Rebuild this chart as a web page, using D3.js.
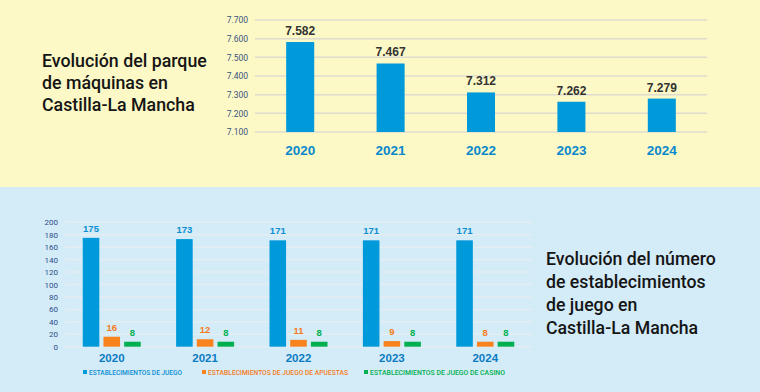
<!DOCTYPE html>
<html><head><meta charset="utf-8">
<script src="https://cdn.jsdelivr.net/npm/d3@7"></script>
<style>html,body{margin:0;padding:0;background:#fff;}svg{display:block;}</style>
</head><body>
<svg id="c" width="760" height="392"></svg>
<script>
// ---------- DATA ----------
const years = ["2020", "2021", "2022", "2023", "2024"];
const machines = [7582, 7467, 7312, 7262, 7279];
const machineTicks = [7100, 7200, 7300, 7400, 7500, 7600, 7700];

const seriesNames = ["ESTABLECIMIENTOS DE JUEGO", "ESTABLECIMIENTOS DE JUEGO DE APUESTAS", "ESTABLECIMIENTOS DE JUEGO DE CASINO"];
const juego = [175, 173, 171, 171, 171];
const apuestas = [16, 12, 11, 9, 8];
const casino = [8, 8, 8, 8, 8];
const estTicks = [0, 20, 40, 60, 80, 100, 120, 140, 160, 180, 200];

const title1 = ["Evolución del parque", "de máquinas en", "Castilla-La Mancha"];
const title2 = ["Evolución del número", "de establecimientos", "de juego en", "Castilla-La Mancha"];

// ---------- SETUP ----------
const svg = d3.select("#c");
const loc = d3.formatLocale({decimal: ",", thousands: ".", grouping: [3], currency: ["", "€"]});
const fmt = loc.format(",");

// backgrounds
svg.append("rect").attr("x", 0).attr("y", 0).attr("width", 760).attr("height", 187).attr("fill", "#fdf9c6");
svg.append("rect").attr("x", 0).attr("y", 187).attr("width", 760).attr("height", 205).attr("fill", "#d4ebf8");

// ---------- TOP CHART ----------
const xT = d3.scaleBand().domain(years).range([255, 707]).paddingInner(0.69).paddingOuter(0.345);
const yT = d3.scaleLinear().domain([7100, 7700]).range([132, 20]);

const gT = svg.append("g");
gT.selectAll("line.grid").data(machineTicks).join("line")
  .attr("x1", 255).attr("x2", 707)
  .attr("y1", d => yT(d)).attr("y2", d => yT(d))
  .attr("stroke", "#dedbd0").attr("stroke-width", 1.5);

const yAxisT = d3.axisLeft(yT).tickValues(machineTicks).tickFormat(fmt).tickSize(0).tickPadding(0);
gT.append("g").attr("transform", "translate(248,0)").call(yAxisT)
  .call(g => g.select(".domain").remove())
  .call(g => g.selectAll("text").attr("font-family", "Roboto, sans-serif").attr("font-size", 8.5).attr("fill", "#3a5480"));

gT.selectAll("rect.bar").data(machines).join("rect")
  .attr("x", (d, i) => xT(years[i])).attr("width", xT.bandwidth())
  .attr("y", d => yT(d)).attr("height", d => yT(7100) - yT(d))
  .attr("fill", "#0099d9");

gT.selectAll("text.val").data(machines).join("text")
  .attr("x", (d, i) => xT(years[i]) + xT.bandwidth() / 2)
  .attr("y", d => yT(d) - 7)
  .attr("text-anchor", "middle")
  .attr("font-family", "Liberation Sans, Arial, sans-serif").attr("font-weight", "bold")
  .attr("font-size", 12).attr("fill", "#333333")
  .text(d => fmt(d));

const xAxisT = d3.axisBottom(xT).tickSize(0).tickPadding(0);
gT.append("g").attr("transform", "translate(0,145)").call(xAxisT)
  .call(g => g.select(".domain").remove())
  .call(g => g.selectAll("text").attr("font-family", "Liberation Sans, Arial, sans-serif")
    .attr("font-weight", "bold").attr("font-size", 13.5).attr("fill", "#0a88cc"));

// titles
function drawTitle(lines, x, y0, dy, targetW) {
  const g = svg.append("g");
  const t = g.append("text").attr("font-family", "Roboto, sans-serif").attr("font-weight", 500)
    .attr("font-size", 18.5).attr("fill", "#151515");
  lines.forEach((l, i) => t.append("tspan").attr("x", 0).attr("y", i * dy).text(l));
  const w = t.select("tspan").node().getComputedTextLength();
  const s = targetW / w;
  g.attr("transform", `translate(${x},${y0}) scale(${s},1)`);
}
drawTitle(title1, 42, 67, 22, 165);

// ---------- BOTTOM CHART ----------
const x0 = d3.scaleBand().domain(years).range([65, 532]).paddingInner(0.379).paddingOuter(0.19);
const keys = [0, 1, 2];
const x1 = d3.scaleBand().domain(keys).range([0, x0.bandwidth()]).paddingInner(0.2);
const yB = d3.scaleLinear().domain([0, 200]).range([346.7, 222.3]);
const colors = ["#0099d9", "#f7821e", "#00b050"];
const labelColors = ["#0b8fd3", "#f47b20", "#00b050"];
const seriesData = [juego, apuestas, casino];

const gB = svg.append("g");
gB.selectAll("line.grid").data(estTicks).join("line")
  .attr("x1", 65).attr("x2", 532)
  .attr("y1", d => yB(d)).attr("y2", d => yB(d))
  .attr("stroke", "#e3edf2").attr("stroke-width", 1.5);

const yAxisB = d3.axisLeft(yB).tickValues(estTicks).tickSize(0).tickPadding(0);
gB.append("g").attr("transform", "translate(58,0)").call(yAxisB)
  .call(g => g.select(".domain").remove())
  .call(g => g.selectAll("text").attr("font-family", "Roboto, sans-serif").attr("font-size", 8).attr("fill", "#2c4f86"));

years.forEach((yr, i) => {
  const grp = gB.append("g").attr("transform", `translate(${x0(yr)},0)`);
  keys.forEach(k => {
    const v = seriesData[k][i];
    grp.append("rect").attr("x", x1(k)).attr("width", x1.bandwidth())
      .attr("y", yB(v)).attr("height", yB(0) - yB(v)).attr("fill", colors[k]);
    grp.append("text").attr("x", x1(k) + x1.bandwidth() / 2).attr("y", yB(v) - 6)
      .attr("text-anchor", "middle").attr("font-family", "Liberation Sans, Arial, sans-serif")
      .attr("font-weight", "bold").attr("font-size", 9.5).attr("fill", labelColors[k]).text(v);
  });
});

const xAxisB = d3.axisBottom(x0).tickSize(0).tickPadding(0);
gB.append("g").attr("transform", "translate(0,354)").call(xAxisB)
  .call(g => g.select(".domain").remove())
  .call(g => g.selectAll("text").attr("font-family", "Liberation Sans, Arial, sans-serif")
    .attr("font-weight", "bold").attr("font-size", 11.5).attr("fill", "#0b7bc2"));

// legend
const legX = [83, 202, 364];
const legW = [99, 146, 141];
seriesNames.forEach((n, k) => {
  const g = svg.append("g").attr("transform", `translate(${legX[k]},372)`);
  g.append("rect").attr("x", 0).attr("y", -2).attr("width", 4).attr("height", 4).attr("fill", colors[k]);
  g.append("text").attr("x", 6).attr("y", 2.6).attr("font-family", "Roboto, sans-serif").attr("font-weight", 500)
    .attr("font-size", 7.2).attr("fill", labelColors[k]).attr("textLength", legW[k] - 6)
    .attr("lengthAdjust", "spacingAndGlyphs").text(n);
});

drawTitle(title2, 546, 265, 23, 170);
</script>
</body></html>
